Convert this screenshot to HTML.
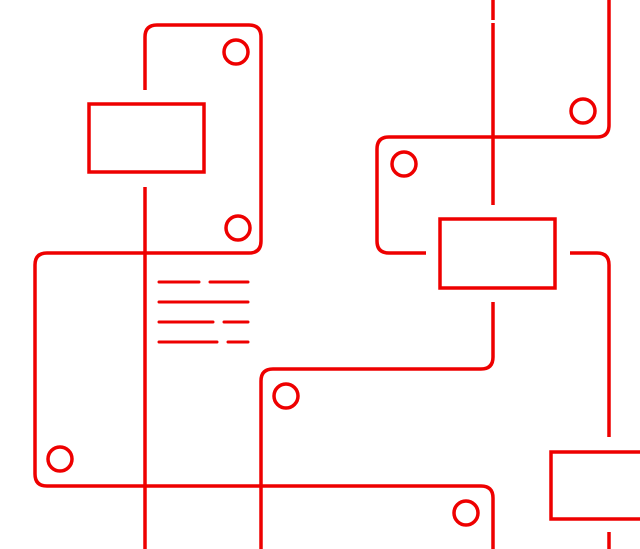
<!DOCTYPE html>
<html><head><style>html,body{margin:0;padding:0;background:#fff;width:640px;height:549px;overflow:hidden}</style></head>
<body>
<svg width="640" height="549" viewBox="0 0 640 549" xmlns="http://www.w3.org/2000/svg">
<g fill="none" stroke="#ee0000" stroke-width="3.5">
<path d="M145,90 V37 Q145,25 157,25 H249 Q261,25 261,37 V241 Q261,253 249,253 H47 Q35,253 35,265 V474 Q35,486 47,486 H481 Q493,486 493,498 V549"/>
<path d="M145,187 V549"/>
<path d="M493,0 V20 M493,23 V205"/>
<path d="M609,0 V125 Q609,137 597,137 H389 Q377,137 377,149 V241 Q377,253 389,253 H426"/>
<path d="M570,253 H597 Q609,253 609,265 V437"/>
<path d="M609,532 V549"/>
<path d="M493,302 V357 Q493,369 481,369 H273 Q261,369 261,381 V549"/>
<rect x="89" y="104" width="115" height="68"/>
<rect x="440" y="219" width="115" height="69"/>
<rect x="551" y="452" width="100" height="67"/>
<circle cx="236" cy="52" r="12"/>
<circle cx="238" cy="228" r="12"/>
<circle cx="404" cy="164" r="12"/>
<circle cx="583" cy="111" r="12"/>
<circle cx="286" cy="396" r="12"/>
<circle cx="60" cy="459" r="12"/>
<circle cx="466" cy="513" r="12"/>
</g>
<g stroke="#ee0000" stroke-width="3" stroke-linecap="round">
<path d="M159,282 H199 M210,282 H248 M159,302 H248 M159,322 H213 M224,322 H248 M159,342 H217 M228,342 H248"/>
</g>
</svg>
</body></html>
